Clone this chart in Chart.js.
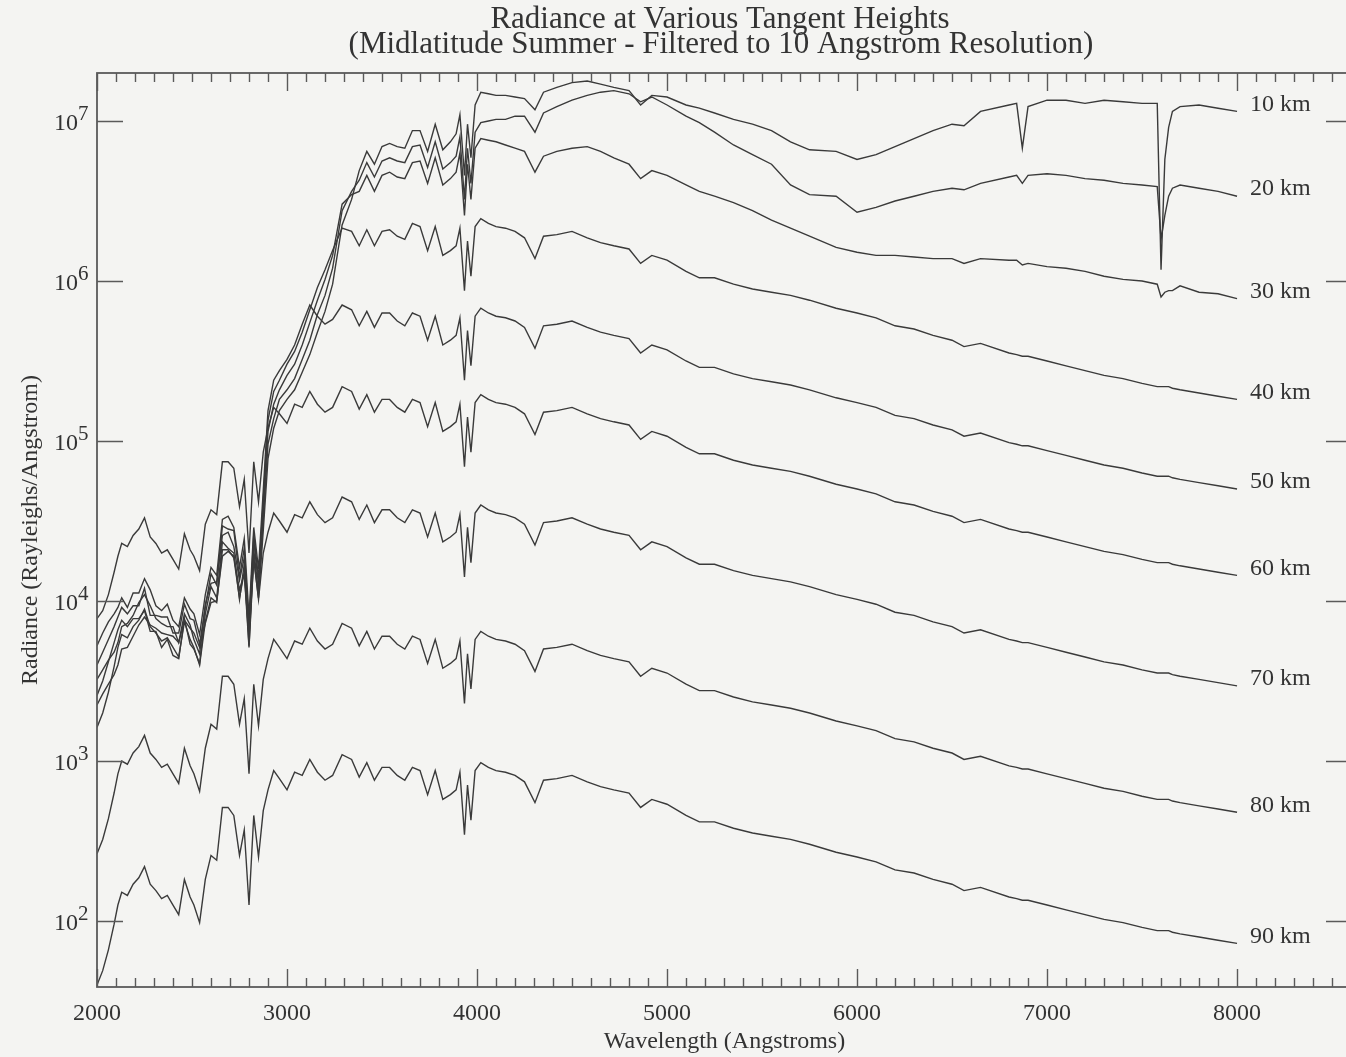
<!DOCTYPE html>
<html>
<head>
<meta charset="utf-8">
<script src="https://cdn.jsdelivr.net/npm/chart.js@4.4.1/dist/chart.umd.min.js"></script>
<style>
html,body{margin:0;padding:0;overflow:hidden;background:#f4f4f2;}
canvas{display:block;}
</style>
</head>
<body>
<canvas id="c" width="1360" height="1057" style="width:1360px;height:1057px"></canvas>
<script>
// Wavelength grid (Angstroms)
const wavelengths = [2000,2030,2060,2090,2110,2130,2160,2190,2220,2250,2280,2310,2340,2370,2400,2430,2460,2490,2510,2540,2570,
  2600,2630,2660,2690,2720,2750,2775,2800,2825,2850,2875,2900,2930,2960,3000,
  3040,3080,3120,3160,3200,3240,3290,3340,3380,3420,3460,3500,3540,3580,3620,3660,3700,3740,3780,3820,3860,3890,3910,3934,3950,3968,3990,
  4020,4060,4100,4150,4200,4250,4305,4350,4420,4500,4580,4650,4720,4800,4861,4920,5000,5100,5170,5250,5350,5450,5550,5650,5750,5890,
  6000,6100,6200,6300,6400,6500,6563,6650,6800,6840,6870,6900,7000,7100,7200,7300,7400,7500,7580,7600,7620,7640,7660,7700,7800,7900,8000];

// Radiance, stored as log10(Rayleighs/Angstrom)
const logRad10km = [3.35,3.42,3.48,3.54,3.60,3.70,3.71,3.78,3.85,3.90,3.85,3.83,3.80,3.79,3.78,3.74,3.88,3.83,3.80,3.71,3.86,
  3.99,4.00,4.28,4.31,4.28,4.07,4.17,3.78,4.26,4.02,4.44,4.89,5.08,5.19,5.26,
  5.32,5.43,5.54,5.68,5.81,5.98,6.35,6.51,6.69,6.81,6.73,6.84,6.86,6.84,6.83,6.94,6.94,6.81,6.98,6.82,6.87,6.92,7.04,6.66,6.98,6.77,7.10,
  7.18,7.17,7.16,7.16,7.15,7.14,7.07,7.18,7.21,7.24,7.25,7.23,7.21,7.19,7.10,7.16,7.15,7.10,7.08,7.05,7.01,6.98,6.94,6.87,6.82,6.81,
  6.76,6.79,6.84,6.89,6.94,6.98,6.97,7.06,7.10,7.11,6.83,7.09,7.13,7.13,7.11,7.13,7.12,7.11,7.11,6.07,6.76,6.96,7.06,7.09,7.10,7.08,7.06];
const logRad20km = [3.41,3.50,3.62,3.74,3.82,3.88,3.84,3.89,3.89,3.94,3.81,3.81,3.71,3.76,3.66,3.64,3.89,3.73,3.70,3.61,3.92,
  4.09,4.02,4.37,4.33,4.30,4.01,4.23,3.72,4.32,4.05,4.51,4.98,5.14,5.26,5.32,
  5.39,5.51,5.63,5.79,5.91,6.08,6.44,6.56,6.63,6.74,6.65,6.75,6.77,6.75,6.74,6.84,6.85,6.71,6.87,6.70,6.74,6.78,6.90,6.51,6.83,6.61,6.93,
  6.99,7.00,7.01,7.01,7.03,7.03,6.93,7.05,7.09,7.13,7.16,7.18,7.19,7.17,7.12,7.15,7.10,7.03,6.99,6.93,6.85,6.79,6.73,6.60,6.54,6.53,
  6.43,6.46,6.50,6.53,6.56,6.58,6.57,6.61,6.65,6.66,6.61,6.66,6.67,6.66,6.64,6.63,6.61,6.60,6.59,6.26,6.41,6.53,6.58,6.60,6.58,6.56,6.53];
const logRad30km = [3.51,3.57,3.63,3.68,3.74,3.84,3.86,3.91,3.99,4.04,3.97,3.89,3.86,3.84,3.84,3.74,3.92,3.85,3.76,3.67,3.98,
  4.11,4.12,4.41,4.43,4.34,4.13,4.27,3.80,4.38,4.10,4.57,5.06,5.23,5.32,5.41,
  5.48,5.60,5.74,5.88,6.01,6.16,6.48,6.54,6.56,6.66,6.56,6.66,6.68,6.65,6.64,6.74,6.75,6.61,6.77,6.60,6.64,6.68,6.80,6.41,6.73,6.51,6.83,
  6.89,6.88,6.87,6.85,6.83,6.81,6.68,6.78,6.81,6.83,6.84,6.81,6.77,6.73,6.64,6.69,6.66,6.60,6.56,6.53,6.49,6.44,6.38,6.33,6.28,6.21,
  6.18,6.16,6.16,6.15,6.14,6.14,6.11,6.14,6.13,6.13,6.10,6.11,6.09,6.08,6.06,6.03,6.01,6.00,5.98,5.90,5.93,5.94,5.94,5.97,5.93,5.92,5.89];
const logRad40km = [3.60,3.68,3.76,3.84,3.90,3.96,3.92,3.97,3.97,4.08,3.91,3.91,3.90,3.90,3.80,3.80,3.98,3.89,3.88,3.73,3.96,
  4.17,4.10,4.47,4.45,4.44,4.15,4.33,3.84,4.42,4.14,4.63,5.13,5.31,5.38,5.48,
  5.56,5.68,5.82,5.96,6.07,6.19,6.33,6.31,6.22,6.32,6.22,6.31,6.32,6.28,6.26,6.36,6.34,6.19,6.34,6.16,6.19,6.22,6.33,5.94,6.25,6.03,6.34,
  6.39,6.36,6.34,6.33,6.31,6.27,6.14,6.28,6.29,6.31,6.27,6.24,6.22,6.20,6.11,6.16,6.13,6.06,6.02,6.02,5.98,5.95,5.93,5.91,5.88,5.83,
  5.80,5.77,5.72,5.70,5.66,5.63,5.59,5.61,5.55,5.54,5.53,5.53,5.50,5.47,5.44,5.41,5.39,5.36,5.34,5.34,5.34,5.34,5.33,5.32,5.30,5.28,5.26];
const logRad50km = [3.72,3.80,3.87,3.92,3.96,4.02,3.96,4.05,4.05,4.14,4.07,3.97,3.94,3.98,3.88,3.84,4.02,3.95,3.92,3.79,4.04,
  4.21,4.16,4.51,4.53,4.46,4.21,4.39,3.90,4.46,4.20,4.69,5.19,5.38,5.44,5.51,
  5.60,5.73,5.85,5.78,5.73,5.76,5.85,5.82,5.72,5.81,5.71,5.80,5.80,5.75,5.72,5.80,5.78,5.63,5.78,5.60,5.63,5.66,5.77,5.38,5.69,5.47,5.78,
  5.83,5.80,5.78,5.77,5.75,5.71,5.58,5.72,5.73,5.75,5.71,5.68,5.66,5.64,5.55,5.60,5.57,5.50,5.46,5.46,5.42,5.39,5.37,5.35,5.32,5.27,
  5.24,5.21,5.16,5.14,5.10,5.07,5.03,5.05,4.99,4.98,4.97,4.97,4.94,4.91,4.88,4.85,4.83,4.80,4.78,4.78,4.78,4.78,4.77,4.76,4.74,4.72,4.70];
const logRad60km = [3.89,3.94,4.04,4.18,4.28,4.36,4.34,4.41,4.45,4.52,4.40,4.36,4.30,4.32,4.26,4.20,4.42,4.32,4.28,4.19,4.48,
  4.57,4.54,4.87,4.87,4.83,4.59,4.76,4.30,4.87,4.62,4.93,5.08,5.21,5.17,5.11,
  5.23,5.21,5.31,5.23,5.18,5.21,5.34,5.31,5.20,5.29,5.18,5.26,5.26,5.21,5.18,5.26,5.24,5.09,5.24,5.06,5.09,5.12,5.23,4.84,5.15,4.93,5.24,
  5.29,5.26,5.24,5.23,5.21,5.17,5.04,5.18,5.19,5.21,5.17,5.14,5.12,5.10,5.01,5.06,5.03,4.96,4.92,4.92,4.88,4.85,4.83,4.81,4.78,4.73,
  4.70,4.67,4.62,4.60,4.56,4.53,4.49,4.51,4.45,4.44,4.43,4.43,4.40,4.37,4.34,4.31,4.29,4.26,4.24,4.24,4.24,4.24,4.23,4.22,4.20,4.18,4.16];
const logRad70km = [3.21,3.30,3.43,3.59,3.71,3.79,3.77,3.84,3.88,3.95,3.84,3.80,3.75,3.77,3.71,3.65,3.87,3.76,3.71,3.60,3.87,
  4.02,3.99,4.32,4.32,4.27,4.02,4.18,3.71,4.27,4.01,4.30,4.43,4.55,4.50,4.43,
  4.54,4.52,4.62,4.54,4.49,4.52,4.65,4.62,4.51,4.60,4.49,4.57,4.57,4.52,4.49,4.57,4.55,4.40,4.55,4.37,4.40,4.43,4.54,4.15,4.46,4.24,4.55,
  4.60,4.57,4.55,4.54,4.52,4.48,4.35,4.49,4.50,4.52,4.48,4.45,4.43,4.41,4.32,4.37,4.34,4.27,4.23,4.23,4.19,4.16,4.14,4.12,4.09,4.04,
  4.01,3.98,3.93,3.91,3.87,3.84,3.80,3.82,3.76,3.75,3.74,3.74,3.71,3.68,3.65,3.62,3.60,3.57,3.55,3.55,3.55,3.55,3.54,3.53,3.51,3.49,3.47];
const logRad80km = [2.42,2.51,2.64,2.80,2.92,3.00,2.98,3.05,3.09,3.16,3.05,3.01,2.96,2.98,2.92,2.86,3.08,2.97,2.92,2.81,3.08,
  3.23,3.20,3.53,3.53,3.48,3.23,3.39,2.92,3.48,3.22,3.51,3.64,3.76,3.71,3.64,
  3.75,3.73,3.83,3.75,3.70,3.73,3.86,3.83,3.72,3.81,3.70,3.78,3.78,3.73,3.70,3.78,3.76,3.61,3.76,3.58,3.61,3.64,3.75,3.36,3.67,3.45,3.76,
  3.81,3.78,3.76,3.75,3.73,3.69,3.56,3.70,3.71,3.73,3.69,3.66,3.64,3.62,3.53,3.58,3.55,3.48,3.44,3.44,3.40,3.37,3.35,3.33,3.30,3.25,
  3.22,3.19,3.14,3.12,3.08,3.05,3.01,3.03,2.97,2.96,2.95,2.95,2.92,2.89,2.86,2.83,2.81,2.78,2.76,2.76,2.76,2.76,2.75,2.74,2.72,2.70,2.68];
const logRad90km = [1.60,1.69,1.82,1.98,2.10,2.18,2.16,2.23,2.27,2.34,2.23,2.19,2.14,2.16,2.10,2.04,2.26,2.15,2.10,1.99,2.26,
  2.41,2.38,2.71,2.71,2.66,2.41,2.57,2.10,2.66,2.40,2.69,2.82,2.94,2.89,2.82,
  2.93,2.91,3.01,2.93,2.88,2.91,3.04,3.01,2.90,2.99,2.88,2.96,2.96,2.91,2.88,2.96,2.94,2.79,2.94,2.76,2.79,2.82,2.93,2.54,2.85,2.63,2.94,
  2.99,2.96,2.94,2.93,2.91,2.87,2.74,2.88,2.89,2.91,2.87,2.84,2.82,2.80,2.71,2.76,2.73,2.66,2.62,2.62,2.58,2.55,2.53,2.51,2.48,2.43,
  2.40,2.37,2.32,2.30,2.26,2.23,2.19,2.21,2.15,2.14,2.13,2.13,2.10,2.07,2.04,2.01,1.99,1.96,1.94,1.94,1.94,1.94,1.93,1.92,1.90,1.88,1.86];

const seriesLabels = ['10 km','20 km','30 km','40 km','50 km','60 km','70 km','80 km','90 km'];
const titleLines = ['Radiance at Various Tangent Heights', '(Midlatitude Summer - Filtered to 10 Angstrom Resolution)'];
const xAxisTitle = 'Wavelength (Angstroms)';
const yAxisTitle = 'Radiance (Rayleighs/Angstrom)';
const decadeExponents = [2, 3, 4, 5, 6, 7];

const PAPER = '#f4f4f2';
const INK = '#333333';
const AXIS = '#5a5a5a';
const SERIF = '"Liberation Serif", "Times New Roman", serif';

const allSeries = [logRad10km, logRad20km, logRad30km, logRad40km, logRad50km, logRad60km, logRad70km, logRad80km, logRad90km];
const datasets = allSeries.map((arr, i) => ({
  label: seriesLabels[i],
  data: wavelengths.map((w, j) => ({ x: w, y: Math.pow(10, arr[j]) })),
  borderColor: '#3a3a3a',
  borderWidth: 1.4,
  pointRadius: 0,
  fill: false,
  tension: 0
}));

function isThousand(v) {
  const r = Math.round(Number(v));
  return Math.abs(Number(v) - r) < 0.5 && r % 1000 === 0;
}

const decor = {
  id: 'decor',
  beforeDraw(chart) {
    const { ctx, width, height } = chart;
    ctx.save();
    ctx.fillStyle = PAPER;
    ctx.fillRect(0, 0, width, height);
    ctx.restore();
  },
  afterDraw(chart) {
    const { ctx, chartArea: a } = chart;
    const xs = chart.scales.x, ys = chart.scales.y;
    ctx.save();
    ctx.strokeStyle = AXIS;
    ctx.lineWidth = 1.8;
    ctx.strokeRect(a.left, a.top, a.right - a.left, a.bottom - a.top);
    ctx.lineWidth = 1.4;
    ctx.beginPath();
    for (let w = 2000; w <= xs.max; w += 100) {
      const px = Math.round(xs.getPixelForValue(w)) + 0.5;
      const len = (w % 1000 === 0) ? 18 : 9;
      ctx.moveTo(px, a.top); ctx.lineTo(px, a.top + len);
      ctx.moveTo(px, a.bottom); ctx.lineTo(px, a.bottom - len);
    }
    decadeExponents.forEach(e => {
      const py = Math.round(ys.getPixelForValue(Math.pow(10, e))) + 0.5;
      ctx.moveTo(a.left, py); ctx.lineTo(a.left + 26, py);
      ctx.moveTo(a.right, py); ctx.lineTo(a.right - 26, py);
    });
    ctx.stroke();

    ctx.fillStyle = INK;
    decadeExponents.forEach(e => {
      const py = ys.getPixelForValue(Math.pow(10, e));
      ctx.font = '24px ' + SERIF;
      ctx.textAlign = 'right';
      ctx.textBaseline = 'alphabetic';
      ctx.fillText('10', a.left - 19, py + 9);
      ctx.font = '21px ' + SERIF;
      ctx.textAlign = 'left';
      ctx.fillText(String(e), a.left - 19, py - 1);
    });

    ctx.font = '24px ' + SERIF;
    ctx.textAlign = 'left';
    ctx.textBaseline = 'middle';
    chart.data.datasets.forEach((ds, i) => {
      const meta = chart.getDatasetMeta(i);
      const pt = meta.data[meta.data.length - 1];
      ctx.fillText(ds.label, pt.x + 13, pt.y - 7);
    });

    ctx.font = '31px ' + SERIF;
    ctx.textAlign = 'center';
    ctx.textBaseline = 'middle';
    ctx.fillText(titleLines[0], 720, 20);
    ctx.fillText(titleLines[1], 721, 45);
    ctx.restore();
  }
};

new Chart(document.getElementById('c'), {
  type: 'line',
  data: { datasets },
  options: {
    responsive: false,
    animation: false,
    devicePixelRatio: 1,
    layout: { padding: { top: 73, right: 8, left: 0, bottom: 0 } },
    plugins: { legend: { display: false }, tooltip: { enabled: false }, title: { display: false } },
    scales: {
      x: {
        type: 'linear', min: 2000, max: 8605,
        afterFit(s) { s.height = 70; },
        afterBuildTicks(s) {
          s.ticks = [2000, 3000, 4000, 5000, 6000, 7000, 8000].map(v => ({ value: v }));
        },
        grid: { display: false, drawTicks: false },
        border: { display: false },
        ticks: {
          autoSkip: false, maxRotation: 0, minRotation: 0, padding: 12, color: INK,
          font: { family: SERIF, size: 24 },
          callback: v => (isThousand(v) ? String(Math.round(v)) : '')
        },
        title: { display: true, text: xAxisTitle, color: INK, font: { family: SERIF, size: 24 }, padding: { top: 0, bottom: 1 } }
      },
      y: {
        type: 'logarithmic', min: 38.7, max: 1.995e7,
        afterFit(s) { s.width = 97; },
        grid: { display: false, drawTicks: false },
        border: { display: false },
        ticks: { display: false },
        title: { display: true, text: yAxisTitle, color: INK, font: { family: SERIF, size: 24 }, padding: { top: 16, bottom: 0 } }
      }
    }
  },
  plugins: [decor]
});
</script>
</body>
</html>
